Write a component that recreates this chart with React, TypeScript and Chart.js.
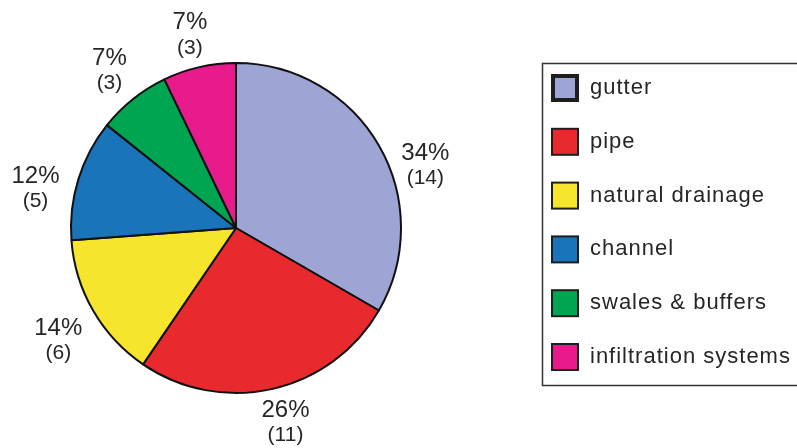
import React, { useEffect, useRef } from "react";
import { Chart, registerables } from "chart.js";

Chart.register(...registerables);

const categories = ["gutter", "pipe", "natural drainage", "channel", "swales & buffers", "infiltration systems"];
const counts = [14, 11, 6, 5, 3, 3];
const percentLabels = ["34%", "26%", "14%", "12%", "7%", "7%"];
const countLabels = ["(14)", "(11)", "(6)", "(5)", "(3)", "(3)"];
const colors = ["#9ea4d4", "#e8292d", "#f6e52c", "#1a74b9", "#00a551", "#e81b8d"];

// label placement styling (angle nudge in degrees, radius factor)
const labelAngleShift = [11.5, -1.5, -2, -5.7, 0, -0.5];
const labelRadiusFactor = [1.21, 1.21, 1.27, 1.24, 1.23, 1.21];

const TEXT = "#262626";
const FONT = '"Liberation Sans", Arial, Helvetica, sans-serif';

const labelPlugin = {
  id: "sliceLabels",
  afterDatasetsDraw(chart: any) {
    const ctx = chart.ctx;
    const meta = chart.getDatasetMeta(0);
    ctx.save();
    ctx.fillStyle = TEXT;
    ctx.textAlign = "center";
    ctx.textBaseline = "middle";
    meta.data.forEach((arc: any, i: number) => {
      const { x, y, startAngle, endAngle, outerRadius } = arc.getProps(
        ["x", "y", "startAngle", "endAngle", "outerRadius"],
        true
      );
      const mid = (startAngle + endAngle) / 2 + (labelAngleShift[i] * Math.PI) / 180;
      const r = outerRadius * labelRadiusFactor[i];
      const lx = x + Math.cos(mid) * r;
      const ly = y + Math.sin(mid) * r;
      ctx.font = `24px ${FONT}`;
      ctx.fillText(percentLabels[i], lx, ly - 11);
      ctx.font = `21px ${FONT}`;
      ctx.fillText(countLabels[i], lx, ly + 14);
    });
    ctx.restore();
  },
};

const legendPlugin = {
  id: "boxLegend",
  afterDraw(chart: any) {
    const ctx = chart.ctx;
    ctx.save();
    ctx.strokeStyle = "#333333";
    ctx.lineWidth = 1.5;
    ctx.strokeRect(542.5, 63.5, 300, 322);
    const rowTop = 88;
    const rowGap = 53.8;
    categories.forEach((name, i) => {
      const cy = rowTop + i * rowGap;
      const bw = i === 0 ? 4 : 2;
      ctx.fillStyle = "#1e1e1e";
      ctx.fillRect(551, cy - 14, 28, 28);
      ctx.fillStyle = colors[i];
      ctx.fillRect(551 + bw, cy - 14 + bw, 28 - 2 * bw, 28 - 2 * bw);
      ctx.fillStyle = TEXT;
      ctx.font = `22px ${FONT}`;
      (ctx as any).letterSpacing = "1px";
      ctx.textAlign = "left";
      ctx.textBaseline = "middle";
      ctx.fillText(name, 590, cy);
    });
    ctx.restore();
  },
};

export default function App() {
  const ref = useRef<HTMLCanvasElement>(null);
  useEffect(() => {
    document.body.style.margin = "0";
    const chart = new Chart(ref.current as HTMLCanvasElement, {
      type: "pie",
      data: {
        labels: categories,
        datasets: [
          {
            data: counts,
            backgroundColor: colors,
            borderColor: "#111111",
            borderWidth: 2,
            hoverOffset: 0,
            radius: 165,
          } as any,
        ],
      },
      options: {
        responsive: false,
        animation: false,
        devicePixelRatio: 1,
        layout: { padding: { left: 71, right: 396, top: 63, bottom: 55 } },
        plugins: { legend: { display: false }, tooltip: { enabled: false } },
        events: [],
      },
      plugins: [labelPlugin, legendPlugin],
    });
    return () => chart.destroy();
  }, []);
  return (
    <div style={{ position: "absolute", left: 0, top: 0, width: 797, height: 448, background: "#fff" }}>
      <canvas ref={ref} width={797} height={448} style={{ display: "block" }} />
    </div>
  );
}
